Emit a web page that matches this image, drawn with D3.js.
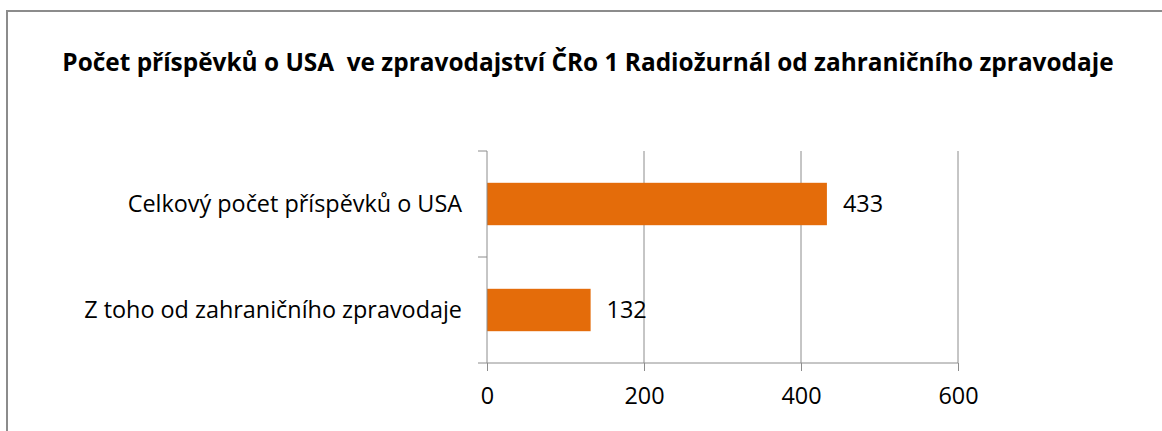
<!DOCTYPE html>
<html>
<head>
<meta charset="utf-8">
<script src="https://cdn.jsdelivr.net/npm/d3@7"></script>
<style>
  body { margin: 0; background: #fff; }
  svg { display: block; font-family: "Open Sans", "Noto Sans", sans-serif; }
</style>
</head>
<body>
<svg id="chart" width="1162" height="431"></svg>
<script>
var title = "Počet příspěvků o USA  ve zpravodajství ČRo 1 Radiožurnál od zahraničního zpravodaje";
var categories = ["Celkový počet příspěvků o USA", "Z toho od zahraničního zpravodaje"];
var values = [433, 132];
var xTicks = [0, 200, 400, 600];

var svg = d3.select("#chart"),
    margin = {top: 151, right: 204, bottom: 68, left: 487},
    width = 1162 - margin.left - margin.right,
    height = 431 - margin.top - margin.bottom,
    labelSize = 23.4;

// outer chart frame (right/bottom edges fall outside the picture)
svg.append("rect")
    .attr("x", 7).attr("y", 11)
    .attr("width", 1200).attr("height", 500)
    .attr("fill", "none")
    .attr("stroke", "#8c8c8c")
    .attr("stroke-width", 2);

svg.append("text")
    .attr("x", 588)
    .attr("y", 71)
    .attr("text-anchor", "middle")
    .attr("font-size", 24.4)
    .attr("font-weight", "bold")
    .attr("fill", "#000")
    .style("white-space", "pre")
    .text(title);

var g = svg.append("g").attr("transform", "translate(" + margin.left + "," + margin.top + ")");

var x = d3.scaleLinear()
    .domain([0, 600])
    .range([0, width]);

var y = d3.scaleBand()
    .domain(categories)
    .range([0, height])
    .paddingInner(0.6)
    .paddingOuter(0.3);

// vertical gridlines
g.append("g")
  .selectAll("line")
  .data(xTicks.slice(1))
  .enter().append("line")
    .attr("x1", function(d) { return x(d); })
    .attr("x2", function(d) { return x(d); })
    .attr("y1", 0)
    .attr("y2", height)
    .attr("stroke", "#8c8c8c")
    .attr("stroke-width", 1);

// bars
g.append("g")
  .selectAll("rect")
  .data(values)
  .enter().append("rect")
    .attr("x", x(0))
    .attr("y", function(d, i) { return y(categories[i]); })
    .attr("width", function(d) { return x(d) - x(0); })
    .attr("height", y.bandwidth())
    .attr("fill", "#e46c0a");

// value labels
g.append("g")
  .selectAll("text")
  .data(values)
  .enter().append("text")
    .attr("x", function(d) { return x(d) + 16; })
    .attr("y", function(d, i) { return y(categories[i]) + y.bandwidth() / 2; })
    .attr("dy", "0.35em")
    .attr("font-size", labelSize)
    .attr("fill", "#000")
    .text(function(d) { return d; });

// x axis
var xAxis = g.append("g")
    .attr("class", "x axis")
    .attr("transform", "translate(0," + height + ")")
    .call(d3.axisBottom(x).tickValues(xTicks).tickSize(8).tickPadding(16).tickSizeOuter(0));
xAxis.select(".domain").remove();
xAxis.append("line")
    .attr("x1", -9).attr("x2", width)
    .attr("stroke", "#8c8c8c");
xAxis.selectAll(".tick line").attr("stroke", "#8c8c8c");
xAxis.selectAll("text")
    .attr("font-size", labelSize)
    .attr("font-family", "\"Open Sans\", sans-serif")
    .attr("fill", "#000");

// y axis, ticks sit on the band boundaries
var yAxis = g.append("g").attr("class", "y axis");
yAxis.append("line")
    .attr("x1", 0).attr("x2", 0)
    .attr("y1", 0).attr("y2", height)
    .attr("stroke", "#8c8c8c");
yAxis.selectAll(".bound")
  .data([0, y.step()])
  .enter().append("line")
    .attr("class", "bound")
    .attr("x1", -9).attr("x2", 0)
    .attr("y1", function(d) { return d; })
    .attr("y2", function(d) { return d; })
    .attr("stroke", "#8c8c8c");
yAxis.selectAll("text")
  .data(categories)
  .enter().append("text")
    .attr("x", -25)
    .attr("y", function(d) { return y(d) + y.bandwidth() / 2; })
    .attr("dy", "0.35em")
    .attr("text-anchor", "end")
    .attr("font-size", labelSize)
    .attr("fill", "#000")
    .text(function(d) { return d; });
</script>
</body>
</html>
